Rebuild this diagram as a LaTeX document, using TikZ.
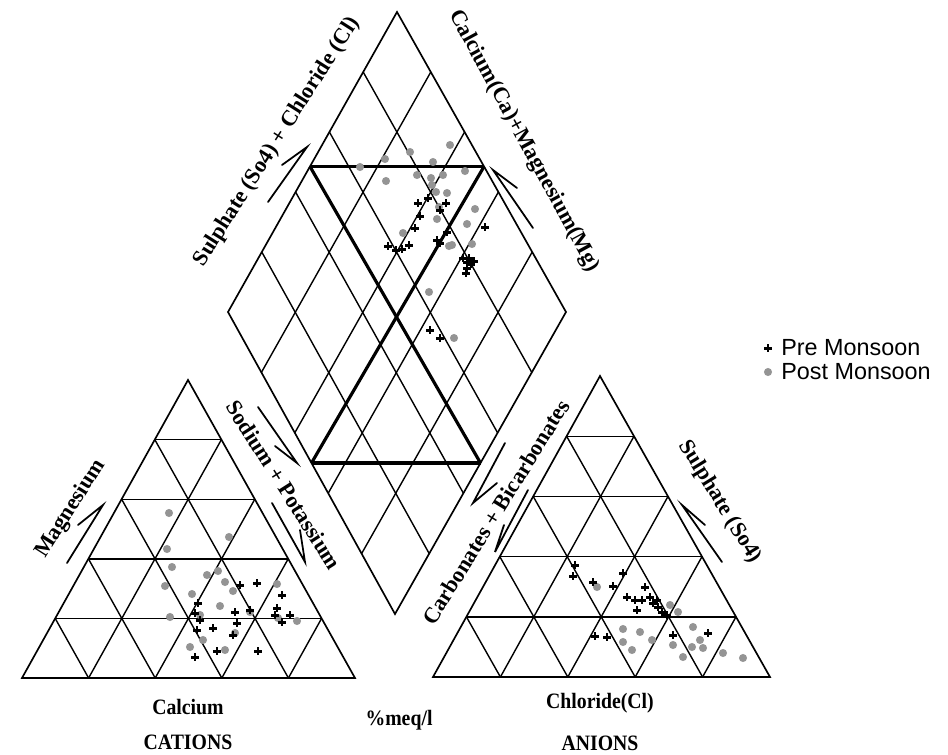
\documentclass[tikz,border=0pt]{standalone}
\usepackage{fontspec}
\setmainfont{Liberation Serif}
\newfontfamily\legendfont{Liberation Sans}
\usetikzlibrary{calc}
\begin{document}
\begin{tikzpicture}[x=0.02cm,y=-0.02cm,
  gridline/.style={line width=0.8pt},
  outline/.style={line width=0.95pt, line join=miter},
  heavy/.style={line width=1.8pt},
  harp/.style={line width=1.0pt, line cap=round, line join=miter},
  axlabel/.style={font=\bfseries\fontsize{12.7}{14}\selectfont, inner sep=0pt},
  botlabel/.style={font=\bfseries\fontsize{12.5}{14}\selectfont, inner sep=0pt, xscale=0.9},
  legtext/.style={font=\legendfont\fontsize{13.3}{15}\selectfont, anchor=west, inner sep=0pt},
  premark/.style={line width=1.7pt},
  postmark/.style={fill=black!42},
]
\useasboundingbox (0,0) rectangle (948,755);
\fill[white] (0,0) rectangle (948,755);

% ---------- geometry ----------
\coordinate (A1) at (188,380);
\coordinate (B1) at (22,678);
\coordinate (C1) at (355,678);
\coordinate (A2) at (600,376);
\coordinate (B2) at (433,677);
\coordinate (C2) at (770,677);
\coordinate (T) at (397,12);
\coordinate (L) at (228,312);
\coordinate (R) at (566,312);
\coordinate (D) at (395,614);

% ---------- triangle grids ----------
\foreach \tA/\tB/\tC in {A1/B1/C1, A2/B2/C2} {
  \foreach \f [evaluate=\f as \g using 1-\f] in {0.2,0.4,0.6,0.8} {
    \draw[gridline] ($(\tA)!\f!(\tB)$) -- ($(\tA)!\f!(\tC)$);
    \draw[gridline] ($(\tB)!\f!(\tC)$) -- ($(\tC)!\g!(\tA)$);
    \draw[gridline] ($(\tB)!\f!(\tC)$) -- ($(\tB)!\f!(\tA)$);
  }
  \draw[outline] (\tA) -- (\tB) -- (\tC) -- cycle;
}

% ---------- diamond grid ----------
\foreach \f in {0.2,0.4,0.6,0.8} {
  \draw[gridline] ($(T)!\f!(R)$) -- ($(L)!\f!(D)$);
  \draw[gridline] ($(T)!\f!(L)$) -- ($(R)!\f!(D)$);
}
\draw[outline] (T) -- (L) -- (D) -- (R) -- cycle;
\coordinate (hTL) at ($(T)!0.515!(L)$);
\coordinate (hTR) at ($(T)!0.515!(R)$);
\coordinate (hBL) at ($(L)!0.5!(D)$);
\coordinate (hBR) at ($(R)!0.5!(D)$);
\draw[heavy] (hTL) -- (hTR);
\draw[heavy] (hBL) -- (hBR);
\draw[heavy] (hTL) -- (hBR);
\draw[heavy] (hTR) -- (hBL);

% ---------- labels ----------
\node[axlabel, rotate=57.7] (mg) at (71,509) {Magnesium};
\node[axlabel, rotate=-57.5] (nak) at (284,485) {Sodium + Potassium};
\node[axlabel, rotate=58.3] (hco) at (496,512) {Carbonates + Bicarbonates};
\node[axlabel, rotate=-58.5] (so4) at (720,502) {Sulphate (So4)};
\node[axlabel, rotate=57.5] (socl) at (277,142) {Sulphate (So4) + Chloride (Cl)};
\node[axlabel, rotate=-61.5] (camg) at (524,141) {Calcium(Ca)+Magnesium(Mg)};

\node[botlabel] (ca) at (188,707) {Calcium};
\node[botlabel] (cat) at (188,742) {CATIONS};
\node[botlabel] (meq) at (399,720) {\%meq/l};
\node[botlabel] (cl) at (600,703) {Chloride(Cl)};
\node[botlabel] (an) at (600,743) {ANIONS};

% ---------- harpoon arrows ----------
\foreach \n/\tx/\ty/\px/\py/\bx/\by in {
  a/67/563/103/505/78/525,
  b/258/407/297/463/275/446,
  c/272/503/305/562/300/530,
  d/722/562/682/505/705/525,
  e/505/443/473/503/497/483,
  f/528/490/495/552/504/525,
  g/268/202/307/147/282/165,
  h/533/228/493/170/517/188} {
  \coordinate (\n tail) at (\tx,\ty);
  \coordinate (\n tip) at (\px,\py);
  \coordinate (\n barb) at (\bx,\by);
  \draw[harp] (\n tail) -- (\n tip) -- (\n barb);
}

% ---------- data: post monsoon ----------
\foreach \x/\y in {
  450/145,410/152,385/159,360/167,433/162,465/171,386/181,417/175,431/178,443/175,
  432/185,436/192,447/193,475/209,439/207,437/219,467/224,403/233,449/246,472/244,
  452/245,429/292,454/338,
  169/513,229/537,167/549,172/567,207/575,218/571,225/582,165/586,192/594,233/591,
  220/606,250/612,277/584,170/617,200/615,203/640,190/647,225/650,235/633,297/621,278/618,
  597/587,670/605,678/612,623/629,640/632,652/640,623/642,632/650,673/645,693/627,
  692/647,703/648,700/640,683/657,723/653,743/658}
  \fill[postmark] (\x,\y) circle[radius=2.3pt];

% ---------- data: pre monsoon ----------
\foreach \x/\y in {
  418/203,428/198,446/203,440/210,420/216,415/228,485/227,447/232,437/240,
  388/246,396/250,402/249,409/245,440/243,
  463/258,467/262,471/264,474/261,467/268,466/273,469/258,430/330,440/338,
  257/583,240/585,282/595,198/603,277/608,235/612,250/610,200/620,197/630,213/628,
  237/623,233/635,275/615,290/615,282/622,195/613,217/651,195/657,258/651,
  575/565,573/576,593/582,613/586,623/573,645/587,627/597,635/600,642/600,637/610,
  650/597,653/603,658/607,662/612,667/615,657/600,595/636,607/637,673/635,708/633}
  \draw[premark] (\x,\y) ++(-4,0) -- ++(8,0) ++(-4,-4) -- ++(0,8);

% ---------- legend ----------
\coordinate (lp) at (768,348);
\coordinate (lq) at (768,372);
\draw[premark] (lp) ++(-4,0) -- ++(8,0) ++(-4,-4) -- ++(0,8);
\fill[postmark] (lq) circle[radius=2.3pt];
\node[legtext] (lpre) at (781,348) {Pre Monsoon};
\node[legtext] (lpost) at (781,372) {Post Monsoon};
\end{tikzpicture}
\end{document}
